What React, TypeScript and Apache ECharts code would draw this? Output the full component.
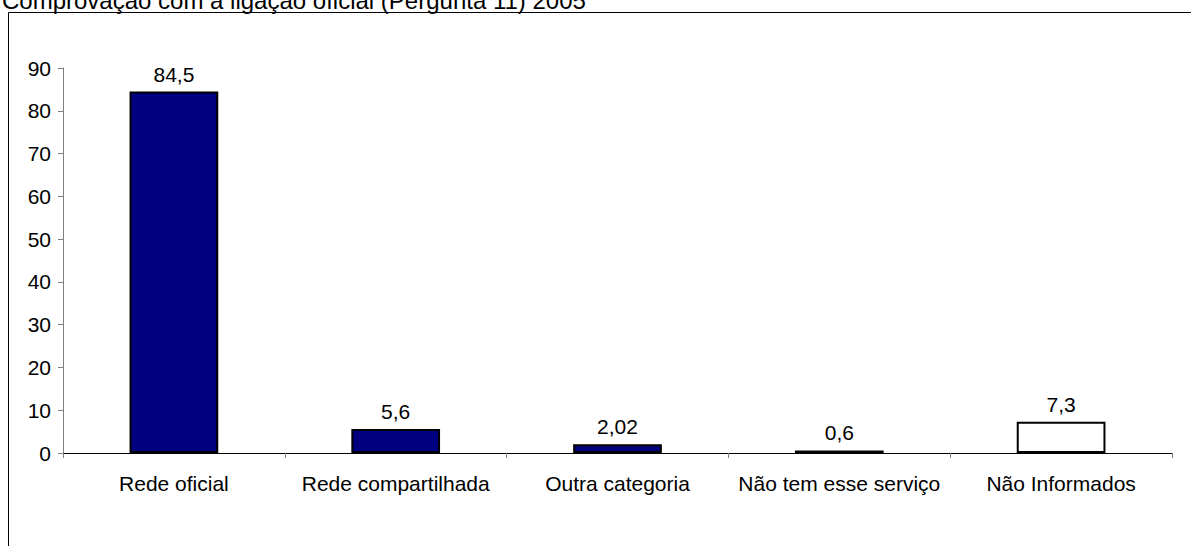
import React, { useEffect, useRef } from "react";
import * as echarts from "echarts";

const categories = ["Rede oficial", "Rede compartilhada", "Outra categoria", "Não tem esse serviço", "Não Informados"];
const values = [84.5, 5.6, 2.02, 0.6, 7.3];
const fills = ["#000080", "#000080", "#000080", "#000080", "#ffffff"];
const yTicks = { min: 0, max: 90, interval: 10 };
const title = "Comprovação com a ligação oficial (Pergunta 11) 2005";

export default function App() {
  const ref = useRef<HTMLDivElement>(null);
  useEffect(() => {
    if (!ref.current) return;
    const chart = echarts.init(ref.current, null, { renderer: "svg" });
    const font = "Arial, 'Liberation Sans', sans-serif";
    chart.setOption({
      animation: false,
      backgroundColor: "#ffffff",
      textStyle: { fontFamily: font },
      grid: { left: 63, right: 19, top: 68, bottom: 93, containLabel: false },
      graphic: [
        {
          type: "rect",
          shape: { x: 8.5, y: 12.5, width: 1200, height: 560 },
          style: { fill: "none", stroke: "#000000", lineWidth: 1 },
          silent: true,
        },
        {
          type: "text",
          x: 2,
          y: -12,
          style: { text: title, font: `24px ${font}`, fill: "#000000" },
          silent: true,
        },
      ],
      xAxis: {
        type: "category",
        data: categories,
        axisLine: { lineStyle: { color: "#000000", width: 1 } },
        axisTick: { show: true, length: 5, lineStyle: { color: "#808080" } },
        axisLabel: { color: "#000000", fontSize: 21, fontFamily: font, margin: 20, interval: 0 },
      },
      yAxis: {
        type: "value",
        min: yTicks.min,
        max: yTicks.max,
        interval: yTicks.interval,
        axisLine: { show: true, lineStyle: { color: "#808080", width: 1 } },
        axisTick: { show: true, length: 5, lineStyle: { color: "#808080" } },
        splitLine: { show: false },
        axisLabel: { color: "#000000", fontSize: 21, fontFamily: font, margin: 12 },
      },
      series: [
        {
          type: "bar",
          barWidth: "40%",
          data: values.map((v, i) => ({
            value: v,
            itemStyle: { color: fills[i], borderColor: "#000000", borderWidth: 2 },
          })),
          label: {
            show: true,
            position: "top",
            distance: 7,
            color: "#000000",
            fontSize: 21,
            fontFamily: font,
            formatter: (p: any) => String(p.value).replace(".", ","),
          },
        },
      ],
    });
    return () => chart.dispose();
  }, []);
  return (
    <div
      ref={ref}
      style={{ position: "fixed", left: 0, top: 0, width: 1191, height: 546 }}
    />
  );
}
